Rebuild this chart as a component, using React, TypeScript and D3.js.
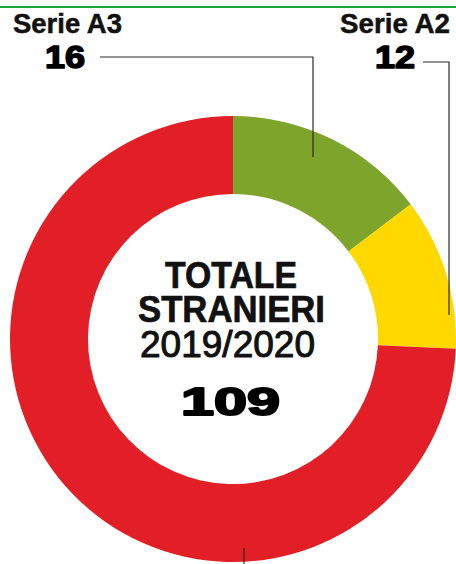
import React from "react";
import * as d3 from "d3";

const categories = ["Serie A3", "Serie A2", "Serie A"];
const values = [16, 12, 81];
const colors = ["#7ea42c", "#ffd800", "#e21f26"];
const titleLines = ["TOTALE", "STRANIERI", "2019/2020"];
const total = values.reduce((a, b) => a + b, 0);

const W = 456;
const H = 564;
const cx = 233;
const cy = 339;
const R = 223;
const r = 145;

export default function App() {
  const pie = d3.pie<number>().sort(null).startAngle(0).endAngle(2 * Math.PI);
  const arcs = pie(values);
  const arc = d3.arc<d3.PieArcDatum<number>>().innerRadius(r).outerRadius(R);
  const font = "'Liberation Sans', Arial, sans-serif";
  const heavy = { fontFamily: font, fontWeight: 700, fill: "#000", stroke: "#000", strokeWidth: 1.6, strokeLinejoin: "round" as const };
  const bold = { fontFamily: font, fontWeight: 700, fill: "#111", stroke: "#111", strokeWidth: 0.7, lengthAdjust: "spacingAndGlyphs" };
  return (
    <svg width={W} height={H} style={{ position: "absolute", left: 0, top: 0, background: "#fff" }}>
      <line x1={0} x2={W} y1={7} y2={7} stroke="#1aa33a" strokeWidth={2.2} />
      <g transform={`translate(${cx},${cy})`}>
        {arcs.map((a, i) => (
          <path key={categories[i]} d={arc(a) || ""} fill={colors[i]} />
        ))}
      </g>
      {/* leader lines */}
      <g stroke="#2a2a2a" strokeWidth={1.2} fill="none">
        <polyline points="100,57 313,57 313,157" />
        <polyline points="423,62 449,62 449,315" />
        <line x1={244} x2={244} y1={548} y2={H + 10} />
      </g>
      {/* labels */}
      <text x={13} y={33} {...bold} strokeWidth={0.5} fontSize={28} textLength={109}>{categories[0]}</text>
      <text x={45} y={68} {...heavy} fontSize={32} textLength={40} lengthAdjust="spacingAndGlyphs">{values[0]}</text>
      <text x={340} y={33} {...bold} strokeWidth={0.5} fontSize={28} textLength={110}>{categories[1]}</text>
      <text x={375} y={68} {...heavy} fontSize={32} textLength={40} lengthAdjust="spacingAndGlyphs">{values[1]}</text>
      {/* center */}
      <text fontFamily={font} fontSize={37} fill="#111" stroke="#111" lengthAdjust="spacingAndGlyphs">
        <tspan x={165} y={288} fontWeight={700} strokeWidth={0.7} textLength={132} lengthAdjust="spacingAndGlyphs">{titleLines[0]}</tspan>
        <tspan x={138} y={322} fontWeight={700} strokeWidth={0.7} textLength={187} lengthAdjust="spacingAndGlyphs">{titleLines[1]}</tspan>
        <tspan x={140} y={357} fontWeight={400} strokeWidth={1} textLength={175} lengthAdjust="spacingAndGlyphs">{titleLines[2]}</tspan>
      </text>
      <text x={181} y={415} {...heavy} fontSize={39} strokeWidth={2} textLength={99} lengthAdjust="spacingAndGlyphs">{total}</text>
    </svg>
  );
}
